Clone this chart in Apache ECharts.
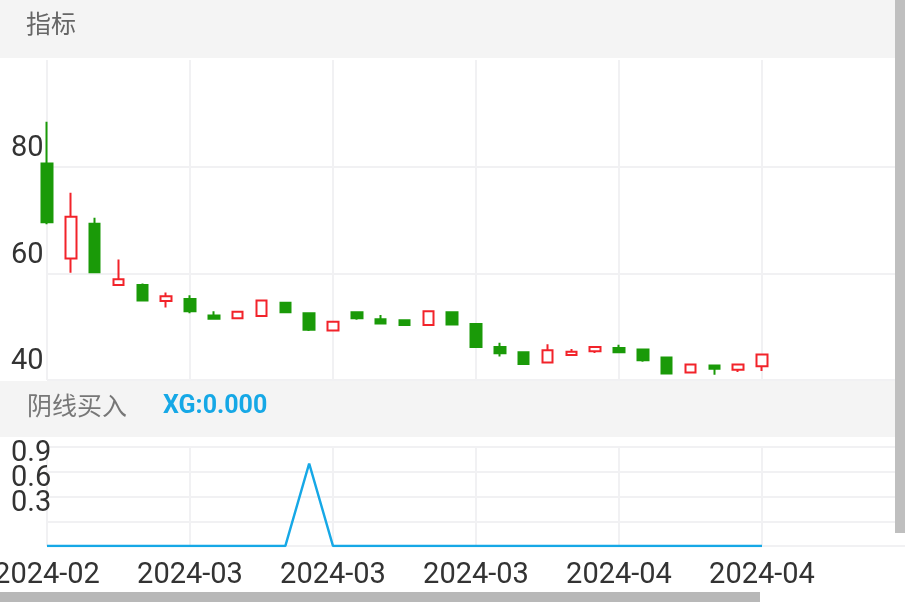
<!DOCTYPE html>
<html>
<head>
<meta charset="utf-8">
<script src="https://cdn.jsdelivr.net/npm/echarts@6/dist/echarts.min.js"></script>
<style>
html,body{margin:0;padding:0;background:#fff;}
#c{width:905px;height:602px;}
</style>
</head>
<body>
<div id="c"></div>
<script>
var dates = ['2024-02-29','2024-03-01','2024-03-04','2024-03-05','2024-03-06','2024-03-07','2024-03-08','2024-03-11','2024-03-12','2024-03-13','2024-03-14','2024-03-15','2024-03-18','2024-03-19','2024-03-20','2024-03-21','2024-03-22','2024-03-25','2024-03-26','2024-03-27','2024-03-28','2024-03-29','2024-04-01','2024-04-02','2024-04-03','2024-04-08','2024-04-09','2024-04-10','2024-04-11','2024-04-12','2024-04-15'];
var openV  = [80.6,62.8,69.3,57.8,57.8,54.8,55.2,52.1,51.6,52.0,54.5,52.5,49.3,52.7,51.4,51.2,50.3,52.7,50.5,46.2,45.2,43.3,44.7,45.4,46.0,45.7,44.2,41.4,42.7,41.9,42.6];
var closeV = [69.6,70.6,60.2,58.9,54.9,55.7,52.9,51.5,52.8,54.9,52.7,49.4,50.9,51.6,50.6,50.3,52.9,50.4,46.2,45.0,43.0,45.6,45.3,46.2,45.2,43.7,41.2,42.9,42.1,42.9,44.8];
var lowV   = [69.2,60.1,60.2,57.8,54.9,53.6,52.5,51.5,51.6,52.0,52.7,49.2,49.3,51.3,50.6,50.2,50.3,50.4,46.2,44.4,43.0,43.3,44.7,45.05,45.2,43.4,41.2,41.4,41.0,41.5,41.7];
var highV  = [88.4,75.1,70.4,62.6,58.1,56.4,55.9,52.9,52.8,54.9,54.5,52.7,50.9,52.7,52.2,51.2,52.9,52.7,50.5,47.0,45.2,46.7,45.8,46.2,46.6,45.7,44.4,42.9,42.7,42.9,44.8];
var xgV    = [0,0,0,0,0,0,0,0,0,0,0,1,0,0,0,0,0,0,0,0,0,0,0,0,0,0,0,0,0,0,0];
var padSlots = 6;

var cats = dates.concat(new Array(padSlots).fill(''));
var kData = dates.map(function(d,i){ return [openV[i], closeV[i], lowV[i], highV[i]]; });

var UP = '#f2232a', DOWN = '#1a9a08', GRID = '#f1f1f3';
var FONT = 'Roboto, "Noto Sans CJK SC", sans-serif';
function splitInt(i){ return i % 6 === 0 && i < cats.length - 1; }

var chart = echarts.init(document.getElementById('c'), null, {renderer:'canvas'});
chart.setOption({
  animation:false,
  backgroundColor:'#fff',
  textStyle:{fontFamily:FONT},
  grid:[
    {left:47, right:0, top:60, height:320, outerBoundsMode:'none', containLabel:false},
    {left:47, right:0, top:447, height:99, outerBoundsMode:'none', containLabel:false}
  ],
  xAxis:[
    {type:'category', gridIndex:0, data:cats, boundaryGap:false,
     axisLine:{show:false}, axisTick:{show:false}, axisLabel:{show:false},
     splitLine:{show:true, interval:function(i){return splitInt(i);}, lineStyle:{color:GRID, width:2}}},
    {type:'category', gridIndex:1, data:cats, boundaryGap:false,
     axisLine:{show:false}, axisTick:{show:false},
     axisLabel:{show:true, interval:5, margin:15, fontSize:29, color:'#333', fontFamily:FONT, hideOverlap:false,
       formatter:function(v){ return v ? v.slice(0,7) : ''; }},
     splitLine:{show:true, interval:function(i){return splitInt(i);}, lineStyle:{color:GRID, width:2}}}
  ],
  yAxis:[
    {type:'value', gridIndex:0, min:40, max:100, interval:20,
     axisLine:{show:false}, axisTick:{show:false},
     splitLine:{show:true, showMaxLine:false, lineStyle:{color:GRID, width:2}},
     axisLabel:{align:'left', margin:36, verticalAlign:'bottom', lineHeight:36, fontSize:29, color:'#333', fontFamily:FONT,
       formatter:function(v){ return v < 100 ? String(v) : ''; }}},
    {type:'value', gridIndex:1, min:0, max:1.2, interval:0.3,
     axisLine:{show:false}, axisTick:{show:false},
     splitLine:{show:true, lineStyle:{color:GRID, width:2}},
     axisLabel:{align:'left', margin:36, verticalAlign:'bottom', lineHeight:36, fontSize:29, color:'#333', fontFamily:FONT,
       formatter:function(v){ return (v > 0.01 && v < 1.1) ? v.toFixed(1) : ''; }}}
  ],
  series:[
    {type:'candlestick', xAxisIndex:0, yAxisIndex:0, data:kData, barWidth:11,
     itemStyle:{color:'#ffffff', color0:DOWN, borderColor:UP, borderColor0:DOWN, borderWidth:2}},
    {type:'line', xAxisIndex:1, yAxisIndex:1, data:xgV, showSymbol:false, symbol:'none',
     lineStyle:{color:'#16a8e6', width:2.5}}
  ],
  graphic:[
    {type:'rect', left:0, top:0, z:-10, shape:{width:905, height:58}, style:{fill:'#f4f4f4'}},
    {type:'text', left:26, top:11, z:10, style:{text:'指标', fill:'#666', font:'25px "Noto Sans CJK SC", sans-serif'}},
    {type:'rect', left:0, top:381, z:-10, shape:{width:905, height:56}, style:{fill:'#f4f4f4'}},
    {type:'text', left:27, top:393, z:10, style:{text:'阴线买入', fill:'#777', font:'25px "Noto Sans CJK SC", sans-serif'}},
    {type:'text', left:163, top:394, z:10, style:{text:'XG:' + xgV[xgV.length-1].toFixed(3), fill:'#16a8e6', font:'bold 25px Roboto, sans-serif'}},
    {type:'rect', left:895, top:0, z:100, shape:{width:10, height:533}, style:{fill:'#bfbfbf'}},
    {type:'rect', left:0, top:592, z:100, shape:{width:760, height:10}, style:{fill:'#b8b8b8'}}
  ]
});
</script>
</body>
</html>
